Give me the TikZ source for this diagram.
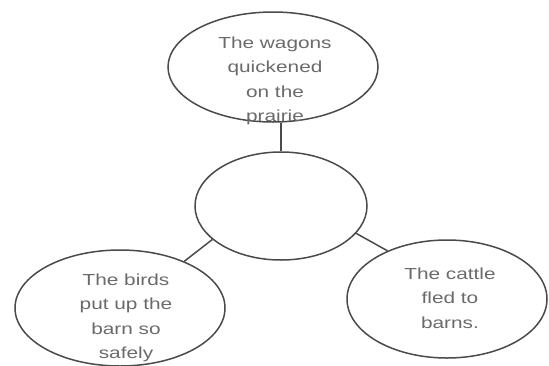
\documentclass[tikz,border=0pt]{standalone}
\usepackage{fontspec}
\setmainfont{Liberation Sans}
\newfontfamily\wide[FakeStretch=1.3]{Liberation Sans}
\usetikzlibrary{shapes.geometric}
\definecolor{edge}{HTML}{4A4A4A}
\definecolor{ink}{HTML}{6A6A6A}
\begin{document}
\begin{tikzpicture}[x=1pt,y=-1pt,
  bubble/.style={ellipse,draw=edge,line width=1.5pt,inner sep=0pt,fill=none},
  words/.style={align=center,text=ink,inner sep=0pt,font=\wide\fontsize{16}{24.5}\selectfont},
  link/.style={draw=edge,line width=1.5pt}]
\useasboundingbox (0,0) rectangle (549,365);
\node[bubble,minimum width=210pt,minimum height=110pt] (top) at (273,67) {};
\node[bubble,minimum width=172pt,minimum height=108pt] (mid) at (281,206) {};
\node[bubble,minimum width=210pt,minimum height=116pt] (bl) at (120,308) {};
\node[bubble,minimum width=200pt,minimum height=118pt] (br) at (447,299) {};
\node[words] (toptext) at (275,81) {The wagons\\quickened\\on the\\prairie};
\node[words] (bltext) at (126,318) {The birds\\put up the\\barn so\\safely};
\node[words] (brtext) at (450,298) {The cattle\\fled to\\barns.};
\draw[link] (mid.north) -- (mid.north |- top.south);
\draw[link] (mid.206) -- (bl.36);
\draw[link] (mid.-20) -- (br.141);
\end{tikzpicture}
\end{document}
